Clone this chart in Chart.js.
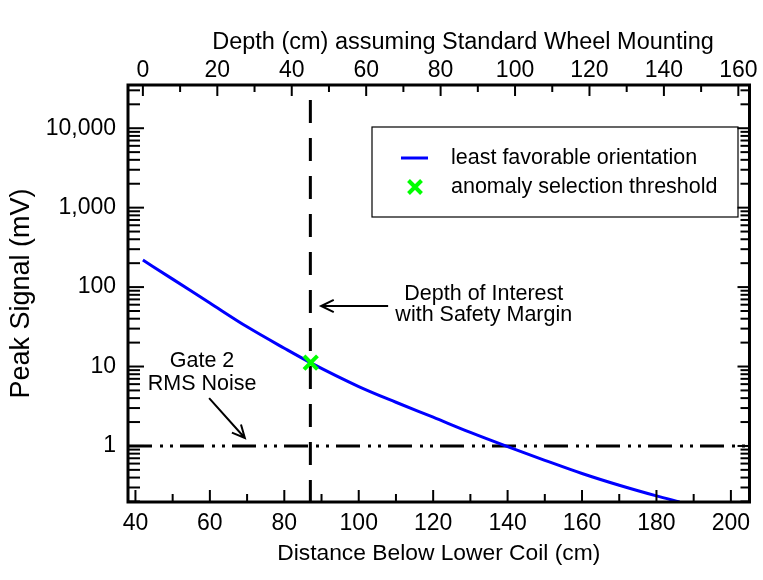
<!DOCTYPE html>
<html>
<head>
<meta charset="utf-8">
<script src="https://cdn.jsdelivr.net/npm/chart.js@4.4.0/dist/chart.umd.min.js"></script>
<style>
  html, body { margin: 0; padding: 0; background: #fff; }
</style>
</head>
<body>
<canvas id="myChart" width="763" height="580"></canvas>
<script>
// datos: distancia bajo la bobina (cm) y senal pico (mV)
const distancia = [42, 50, 60, 70, 80, 87, 100, 110, 120, 130, 140, 150, 160, 170, 180, 186.2]
const senal = [219, 126, 63, 31.6, 17, 11.2, 5.6, 3.55, 2.3, 1.48, 0.98, 0.66, 0.45, 0.32, 0.235, 0.197]

const umbralX = [87.1]   // anomaly selection threshold
const umbralY = [11.2]

const profundidadInteres = 87   // linea vertical discontinua
const ruidoGate2 = 1            // linea horizontal raya-punto-punto

const ticksAbajo = [40, 60, 80, 100, 120, 140, 160, 180, 200]
const ticksArriba = [0, 20, 40, 60, 80, 100, 120, 140, 160]
const ticksY = [1, 10, 100, 1000, 10000]
const desfaseProfundidad = 42   // depth = distance - 42

const xMin = 38, xMax = 205
const yMin = 0.197, yMax = 35000

const tituloArriba = 'Depth (cm) assuming Standard Wheel Mounting'

// textos con flechas
const notas = [
  { texto: ['Depth of Interest', 'with Safety Margin'], x: 133.6, y: 60.4, salto: 21 },
  { texto: ['Gate 2', 'RMS Noise'], x: 57.9, y: 8.4, salto: 23 }
]
const flechas = [
  { desde: [107.9, 57.8], hasta: [89.9, 57.8] },
  { desde: [59.8, 4.0], hasta: [69.4, 1.26] }
]

const fuente = '"Liberation Sans", Arial, sans-serif'
Chart.defaults.font.family = fuente
Chart.defaults.color = '#000'

function flecha(ctx, x1, y1, x2, y2) {
  const ang = Math.atan2(y2 - y1, x2 - x1)
  const largo = 14, abre = 0.45
  ctx.beginPath()
  ctx.moveTo(x1, y1)
  ctx.lineTo(x2, y2)
  ctx.moveTo(x2 - largo * Math.cos(ang - abre), y2 - largo * Math.sin(ang - abre))
  ctx.lineTo(x2, y2)
  ctx.lineTo(x2 - largo * Math.cos(ang + abre), y2 - largo * Math.sin(ang + abre))
  ctx.stroke()
}

function cruz(ctx, x, y, r) {
  ctx.beginPath()
  ctx.moveTo(x - r, y - r); ctx.lineTo(x + r, y + r)
  ctx.moveTo(x - r, y + r); ctx.lineTo(x + r, y - r)
  ctx.stroke()
}

// marco, ticks hacia adentro, leyenda y anotaciones
const marco = {
  id: 'marco',
  afterDraw(chart) {
    const ctx = chart.ctx
    const ca = chart.chartArea
    const xs = chart.scales.x, xt = chart.scales.x2, ys = chart.scales.y
    ctx.save()
    ctx.strokeStyle = '#000'
    ctx.lineWidth = 2
    ctx.lineCap = 'butt'

    // eje x abajo
    for (let v = ticksAbajo[0]; v <= ticksAbajo[ticksAbajo.length - 1]; v += 10) {
      const px = xs.getPixelForValue(v)
      const len = ticksAbajo.includes(v) ? 12 : 8
      ctx.beginPath(); ctx.moveTo(px, ca.bottom); ctx.lineTo(px, ca.bottom - len); ctx.stroke()
    }
    // eje x arriba
    for (let v = ticksArriba[0]; v <= ticksArriba[ticksArriba.length - 1]; v += 10) {
      const px = xt.getPixelForValue(v)
      const len = ticksArriba.includes(v) ? 11 : 7
      ctx.beginPath(); ctx.moveTo(px, ca.top); ctx.lineTo(px, ca.top + len); ctx.stroke()
    }
    // eje y log, ambos lados
    for (let e = -1; e <= 4; e++) {
      for (let m = 1; m <= 9; m++) {
        const v = m * Math.pow(10, e)
        if (v < yMin || v > yMax) continue
        const py = ys.getPixelForValue(v)
        const mayor = m === 1
        ctx.beginPath(); ctx.moveTo(ca.left, py); ctx.lineTo(ca.left + (mayor ? 16 : 12), py); ctx.stroke()
        ctx.beginPath(); ctx.moveTo(ca.right, py); ctx.lineTo(ca.right - (mayor ? 12 : 9), py); ctx.stroke()
      }
    }

    // marco grueso
    ctx.lineWidth = 3
    ctx.strokeRect(ca.left, ca.top, ca.right - ca.left, ca.bottom - ca.top)

    // titulo de arriba (corrido a la derecha como en el original)
    ctx.fillStyle = '#000'
    ctx.textAlign = 'center'
    ctx.textBaseline = 'middle'
    ctx.font = '23.5px ' + fuente
    ctx.fillText(tituloArriba, 463, 43)

    // flechas
    ctx.lineWidth = 2
    flechas.forEach(f => {
      flecha(ctx,
        xs.getPixelForValue(f.desde[0]), ys.getPixelForValue(f.desde[1]),
        xs.getPixelForValue(f.hasta[0]), ys.getPixelForValue(f.hasta[1]))
    })

    // textos
    ctx.font = '21.5px ' + fuente
    notas.forEach(n => {
      const cx = xs.getPixelForValue(n.x), cy = ys.getPixelForValue(n.y)
      n.texto.forEach((t, i) => {
        ctx.fillText(t, cx, cy + (i - (n.texto.length - 1) / 2) * n.salto)
      })
    })

    // leyenda
    const lx = ca.left + 244, ly = ca.top + 42
    ctx.lineWidth = 1.2
    ctx.strokeRect(lx, ly, 366, 90)
    ctx.strokeStyle = '#0000ff'
    ctx.lineWidth = 3
    ctx.beginPath(); ctx.moveTo(lx + 29, ly + 31); ctx.lineTo(lx + 56, ly + 31); ctx.stroke()
    ctx.strokeStyle = '#00ff00'
    ctx.lineWidth = 4
    cruz(ctx, lx + 43, ly + 60, 6.5)
    ctx.textAlign = 'left'
    ctx.fillText('least favorable orientation', lx + 79, ly + 31)
    ctx.fillText('anomaly selection threshold', lx + 79, ly + 60)
    ctx.restore()
  }
}

const config = {
  type: 'line',
  data: {
    datasets: [
      {
        label: 'anomaly selection threshold',
        data: umbralX.map((x, i) => ({ x: x, y: umbralY[i] })),
        showLine: false,
        pointStyle: 'crossRot',
        pointRadius: 9.5,
        pointBorderWidth: 4,
        pointBorderColor: '#00ff00',
        borderColor: '#00ff00'
      },
      {
        label: 'least favorable orientation',
        data: distancia.map((x, i) => ({ x: x, y: senal[i] })),
        borderColor: '#0000ff',
        borderWidth: 3,
        pointRadius: 0,
        cubicInterpolationMode: 'monotone'
      },
      {
        label: 'depth of interest',
        data: [{ x: profundidadInteres, y: yMax }, { x: profundidadInteres, y: yMin }],
        borderColor: '#000',
        borderWidth: 3,
        borderDash: [23, 15],
        borderDashOffset: 23,
        pointRadius: 0
      },
      {
        label: 'gate 2 rms noise',
        data: [{ x: xMin, y: ruidoGate2 }, { x: xMax, y: ruidoGate2 }],
        borderColor: '#000',
        borderWidth: 3,
        borderDash: [24, 8, 3, 7, 3, 7],
        pointRadius: 0
      }
    ]
  },
  options: {
    responsive: false,
    animation: false,
    layout: { padding: { right: 10 } },
    plugins: { legend: { display: false }, tooltip: { enabled: false } },
    scales: {
      x: {
        type: 'linear', position: 'bottom', min: xMin, max: xMax,
        afterBuildTicks: s => { s.ticks = ticksAbajo.map(v => ({ value: v })) },
        afterFit: s => { s.height = 78; s.paddingLeft = 0; s.paddingRight = 0 },
        grid: { display: false, drawTicks: false }, border: { display: false },
        ticks: { autoSkip: false, maxRotation: 0, padding: 8, font: { size: 23 } },
        title: { display: true, text: 'Distance Below Lower Coil (cm)', font: { size: 22.8 }, padding: { top: 0, bottom: 13 } }
      },
      x2: {
        type: 'linear', position: 'top', min: xMin - desfaseProfundidad, max: xMax - desfaseProfundidad,
        afterBuildTicks: s => { s.ticks = ticksArriba.map(v => ({ value: v })) },
        afterFit: s => { s.height = 85; s.paddingLeft = 0; s.paddingRight = 0 },
        grid: { display: false, drawTicks: false }, border: { display: false },
        ticks: { autoSkip: false, maxRotation: 0, padding: 1, font: { size: 23 } },
        title: { display: false }
      },
      y: {
        type: 'logarithmic', position: 'left', min: yMin, max: yMax,
        afterBuildTicks: s => { s.ticks = ticksY.map(v => ({ value: v })) },
        afterFit: s => { s.width = 128; s.paddingTop = 0; s.paddingBottom = 0 },
        grid: { display: false, drawTicks: false }, border: { display: false },
        ticks: { autoSkip: false, padding: 12, font: { size: 23 }, callback: v => Number(v).toLocaleString('en-US') },
        title: { display: true, text: 'Peak Signal (mV)', font: { size: 27 }, padding: { top: 5, bottom: 0 } }
      }
    }
  },
  plugins: [marco]
}

const myChart = document.getElementById('myChart')
new Chart(myChart, config)
</script>
</body>
</html>
